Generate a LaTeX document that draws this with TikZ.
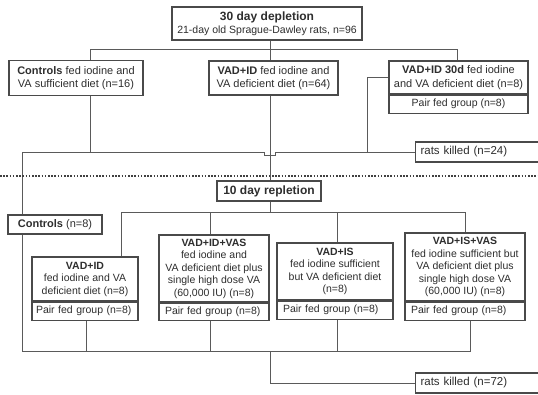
\documentclass[tikz,border=0pt]{standalone}
\usepackage{fontspec}
\setmainfont{Liberation Sans}
\definecolor{boxc}{HTML}{4A4A4A}
\definecolor{linec}{HTML}{5A5A5A}
\definecolor{txt}{HTML}{2E2E2E}
\tikzset{
  box/.style={draw=boxc, line width=1.1pt, fill=white, inner sep=0pt, align=center, text=txt,
    font=\fontsize{10.5}{12.5}\selectfont},
  part/.style={box, align=left, inner xsep=6pt, inner ysep=0pt},
  killbox/.style={box, anchor=west, align=left, inner xsep=5pt, text width=117pt, minimum height=20pt,
    font=\fontsize{11.5}{13.5}\selectfont},
  conn/.style={draw=linec, line width=0.9pt},
  sepline/.style={draw=black!75, line width=1.8pt, dash pattern=on 1.6pt off 1.6pt},
}
\begin{document}
\begin{tikzpicture}[x=1pt,y=-1pt]
\useasboundingbox (0,0) rectangle (538,394);
\clip (0,0) rectangle (538,394);
\fill[white] (0,0) rectangle (538,394);

% ---------- depletion phase ----------
\node[box, minimum width=190pt, minimum height=33pt] (top) at (267,23.5)
  {{\fontsize{12}{14}\selectfont\bfseries 30 day depletion}\\21-day old Sprague-Dawley rats, n=96};
\node[box, minimum width=134pt, minimum height=35pt, font=\fontsize{11}{13.5}\selectfont] (ctrl) at (76,78)
  {\textbf{Controls} fed iodine and\\VA sufficient diet (n=16)};
\node[box, minimum width=129pt, minimum height=34pt, font=\fontsize{11}{13.5}\selectfont] (vadid) at (273.5,78)
  {\textbf{VAD+ID} fed iodine and\\VA deficient diet (n=64)};
\node[box, minimum width=139pt, minimum height=33pt, font=\fontsize{11}{13.5}\selectfont] (vad30) at (458.5,77.5)
  {\textbf{VAD+ID 30d} fed iodine\\and VA deficient diet (n=8)};
\node[box, anchor=north, minimum width=139pt, minimum height=18pt] (vad30p) at (vad30.south)
  {Pair fed group (n=8)};
\node[killbox] (rats24) at (415,152) {rats killed (n=24)};

% ---------- repletion phase ----------
\node[box, minimum width=104pt, minimum height=20pt, font=\fontsize{12}{14}\selectfont\bfseries] (repl) at (269,191)
  {10 day repletion};
\node[box, minimum width=94pt, minimum height=19pt, font=\fontsize{11}{13}\selectfont] (ctrl8) at (55,224.5)
  {\textbf{Controls} (n=8)};

\node[box, minimum width=106pt, minimum height=44pt] (b1) at (85,279)
  {\textbf{VAD+ID}\\fed iodine and VA\\deficient diet (n=8)};
\node[part, anchor=north, inner xsep=4pt, text width=98pt, minimum height=18pt] (b1p) at (b1.south) {Pair fed group (n=8)};

\node[box, minimum width=110pt, minimum height=67pt] (b2) at (214,268.5)
  {\textbf{VAD+ID+VAS}\\fed iodine and\\VA deficient diet plus\\single high dose VA\\(60,000 IU) (n=8)};
\node[part, anchor=north, text width=98pt, minimum height=17pt] (b2p) at (b2.south) {Pair fed group (n=8)};

\node[box, minimum width=116pt, minimum height=57pt] (b3) at (335,271.5)
  {\textbf{VAD+IS}\\fed iodine sufficient\\but VA deficient diet\\(n=8)};
\node[part, anchor=north, text width=104pt, minimum height=18pt] (b3p) at (b3.south) {Pair fed group (n=8)};

\node[box, minimum width=120pt, minimum height=68pt] (b4) at (465,267)
  {\textbf{VAD+IS+VAS}\\fed iodine sufficient but\\VA deficient diet plus\\single high dose VA\\(60,000 IU) (n=8)};
\node[part, anchor=north, text width=108pt, minimum height=18pt] (b4p) at (b4.south) {Pair fed group (n=8)};

\node[killbox] (rats72) at (415,383) {rats killed (n=72)};

% ---------- helper coordinates ----------
\coordinate (xm) at (270,0);
\coordinate (xa) at (90,49);
\coordinate (xb) at (457,49);
\coordinate (xc) at (367,0);
\coordinate (hl) at (22,152);
\coordinate (hr) at (121,212);
\coordinate (hr2) at (465,212);
\coordinate (t210) at (210,212);
\coordinate (t337) at (337,212);
\coordinate (bl) at (22,351);
\coordinate (br) at (470,351);
\coordinate (d86) at (86,351);
\coordinate (d210) at (210,351);
\coordinate (d337) at (337,351);

% ---------- connectors ----------
\draw[conn] (top.south -| xm) -- (vadid.north -| xm);
\draw[conn] (ctrl.north -| xa) -- (xa) -- (xb) -- (vad30.north -| xb);
\draw[conn] (ctrl.south -| xa) -- (xa |- hl);
\draw[conn] (ctrl8.north -| hl) -- (hl) -- (264,152) -- (264,155.5) -- (275,155.5) -- (275,152) -- (rats24.west);
\draw[conn] (vad30.west) -| (xc |- hl);
\draw[conn] (vadid.south -| xm) -- (repl.north -| xm);

\draw[sepline] (0,176) -- (538,176);

\draw[conn] (repl.south -| xm) -- (xm |- hr);
\draw[conn] (b1.north -| hr) -- (hr) -- (hr2) -- (b4.north -| hr2);
\draw[conn] (b2.north -| t210) -- (t210);
\draw[conn] (b3.north -| t337) -- (t337);

\draw[conn] (ctrl8.south -| bl) -- (bl) -- (br) -- (b4p.south -| br);
\draw[conn] (b1p.south -| d86) -- (d86);
\draw[conn] (b2p.south -| d210) -- (d210);
\draw[conn] (b3p.south -| d337) -- (d337);
\draw[conn] (xm |- bl) |- (rats72.west);
\end{tikzpicture}
\end{document}
